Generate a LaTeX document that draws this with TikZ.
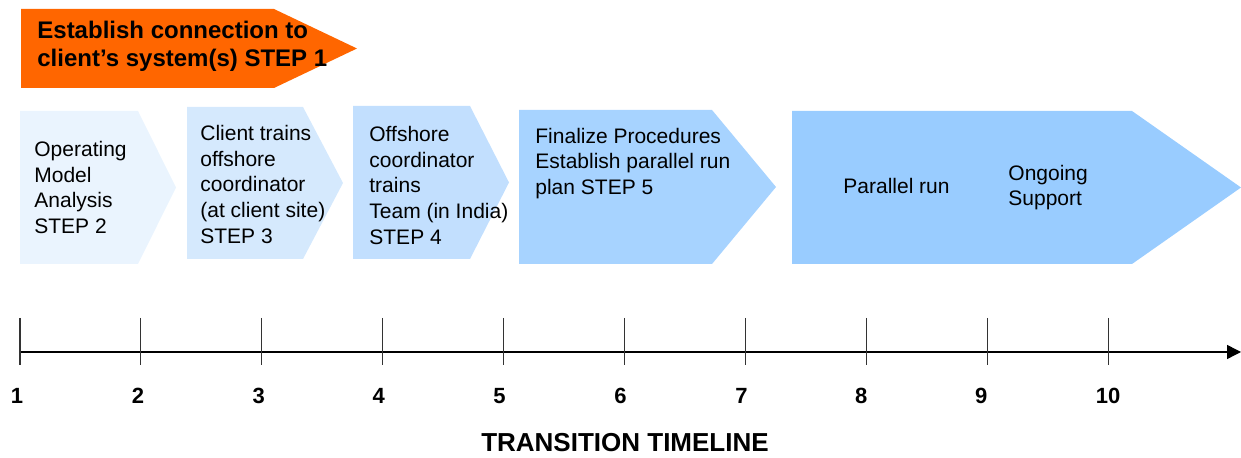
\documentclass[tikz,border=0pt]{standalone}
\usepackage{fontspec}
\setmainfont{Liberation Sans}
\usetikzlibrary{arrows.meta}
\definecolor{orangeA}{HTML}{FF6600}
\definecolor{blueA}{HTML}{EAF4FE}
\definecolor{blueB}{HTML}{D5E9FD}
\definecolor{blueC}{HTML}{C2DFFE}
\definecolor{blueD}{HTML}{A7D3FF}
\definecolor{blueE}{HTML}{99CCFF}
\tikzset{
  bodytext/.style={anchor=north west, inner sep=0pt, align=left, font=\fontsize{10.5}{12.8}\selectfont},
  headtext/.style={anchor=north west, inner sep=0pt, align=left, font=\bfseries\fontsize{12}{14}\selectfont},
  numlabel/.style={inner sep=0pt, font=\bfseries\fontsize{11}{13}\selectfont},
  titletext/.style={inner sep=0pt, font=\bfseries\fontsize{13}{15}\selectfont},
  axisline/.style={line width=0.7pt, black},
  tickline/.style={line width=0.55pt, black!80}
}
\begin{document}
\begin{tikzpicture}[x=0.5pt,y=-0.5pt]
\useasboundingbox (0,0) rectangle (1241,458);
% shapes
\fill[orangeA] (21,9) -- (274,9) -- (357,48.5) -- (274,88) -- (21,88) -- cycle;
\fill[blueA] (20,111) -- (138,111) -- (176,187.5) -- (138,264) -- (20,264) -- cycle;
\fill[blueB] (187,107) -- (303,107) -- (343,183) -- (303,259) -- (187,259) -- cycle;
\fill[blueC] (353,106) -- (470,106) -- (509,182.5) -- (470,259) -- (353,259) -- cycle;
\fill[blueD] (519,110) -- (712,110) -- (776,187) -- (712,264) -- (519,264) -- cycle;
\fill[blueE] (792,111) -- (1132,111) -- (1241,187.5) -- (1132,264) -- (792,264) -- cycle;
% texts
\node[headtext] (s1) at (37,20.5) {Establish connection to\\client’s system(s) STEP 1};
\node[bodytext] (s2) at (34,141) {Operating\\Model\\Analysis\\STEP 2};
\node[bodytext] (s3) at (200,125) {Client trains\\offshore\\coordinator\\(at client site)\\STEP 3};
\node[bodytext] (s4) at (369,126) {Offshore\\coordinator\\trains\\Team (in India)\\STEP 4};
\node[bodytext] (s5) at (535,127.5) {Finalize Procedures\\Establish parallel run\\plan STEP 5};
\node[bodytext] (pr) at (843,177.5) {Parallel run};
\node[bodytext] (os) at (1008,164.5) {Ongoing\\Support};
% timeline
\coordinate (ax0) at (20,352);
\coordinate (ax1) at (1241,352);
\draw[axisline,-{Triangle[length=7pt,width=7pt]}] (ax0) -- (ax1);
\foreach \i in {1,...,10} {
  \pgfmathsetmacro{\tx}{20+120.9*(\i-1)}
  \coordinate (t\i) at (\tx,352);
  \draw[tickline] (\tx,318) -- (\tx,365);
}
\foreach \i/\dx in {1/-3,2/-3,3/-3,4/-4,5/-4,6/-4,7/-4,8/-5,9/-6,10/0} {
  \pgfmathsetmacro{\tx}{20+120.9*(\i-1)+\dx}
  \node[numlabel] (n\i) at (\tx,396) {\i};
}
\node[titletext] (title) at (625,443) {TRANSITION TIMELINE};
\end{tikzpicture}
\end{document}
